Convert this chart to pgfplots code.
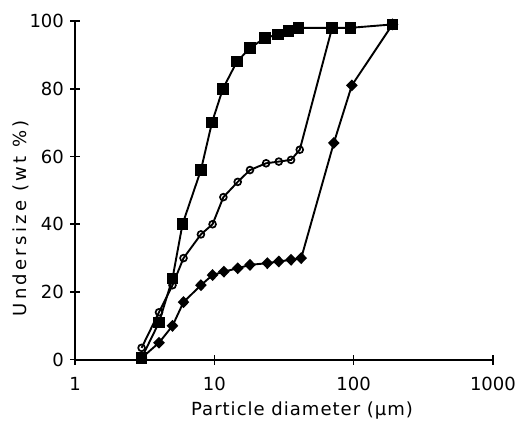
\documentclass[border=0pt]{standalone}
\usepackage{fontspec}
\setmainfont{DejaVu Sans}
\usepackage{pgfplots}
\pgfplotsset{compat=1.18}

\begin{document}
\fontsize{18}{21}\selectfont
\begin{tikzpicture}
\begin{axis}[
    scale only axis,
    width=417pt,
    height=338pt,
    xmode=log,
    xmin=1, xmax=1000,
    ymin=0, ymax=100,
    axis lines=left,
    axis line style={-, line width=1.8pt},
    xtick={1,10,100,1000},
    xticklabels={1,10,100,1000},
    xminorticks=false,
    ytick={0,20,40,60,80,100},
    tick align=center,
    major tick length=10pt,
    tick style={line width=1.5pt, black},
    /pgf/number format/assume math mode=true,
    xticklabel style={yshift=-6pt},
    xlabel={\addfontfeature{LetterSpace=5.5}Particle diameter (µm)},
    xlabel style={at={(axis description cs:0.5,0)}, anchor=north, xshift=18pt, yshift=-36pt},
    ylabel={\addfontfeature{LetterSpace=18}Undersize (wt \%)},
    ylabel style={at={(axis description cs:0,0.418)}, anchor=center, yshift=54pt},
    clip=false,
    every axis plot/.append style={line width=1.9pt, black},
]

% filled diamonds
\addplot[mark=diamond*, mark size=4.6pt, mark options={solid, fill=black, xscale=1.3}] coordinates {
    (3,0.5) (4,5) (5,10) (6,17) (8,22) (9.7,25) (11.7,26) (14.7,27)
    (18,28) (24,28.5) (29,29) (35.5,29.5) (42,30) (72,64) (97,81) (190,99)
};

% open circles
\addplot[mark=o, mark size=3.4pt, mark options={solid, fill=white, line width=1.7pt}] coordinates {
    (3,3.5) (4,14) (5,22) (6,30) (8,37) (9.7,40) (11.6,48) (14.7,52.5)
    (18,56) (23.5,58) (29,58.5) (35.5,59) (41,62) (70,98)
};

% filled squares
\addplot[mark=square*, mark size=4.8pt, mark options={solid, fill=black}] coordinates {
    (3,0.5) (4,11) (5,24) (5.9,40) (8,56) (9.6,70) (11.5,80) (14.5,88)
    (18,92) (23,95) (28.5,96) (34,97) (40,98) (70,98) (95,98) (190,99)
};

\coordinate (bl) at (rel axis cs:0,0);
\coordinate (tr) at (rel axis cs:1,1);
\end{axis}
\pgfresetboundingbox
\path[use as bounding box] ([xshift=-75pt,yshift=-61pt]bl) rectangle ([xshift=24pt,yshift=21pt]tr);
\end{tikzpicture}
\end{document}
